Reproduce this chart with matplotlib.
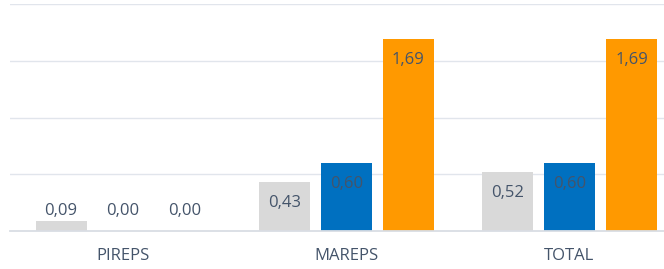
import matplotlib
matplotlib.use("Agg")
import matplotlib.pyplot as plt
import numpy as np

categories = ["PIREPS", "MAREPS", "TOTAL"]
serie_gris = [0.09, 0.43, 0.52]
serie_azul = [0.00, 0.60, 0.60]
serie_naranja = [0.00, 1.69, 1.69]

colores = ["#D9D9D9", "#0070C0", "#FF9900"]
texto = "#44546A"

plt.rcParams['font.family'] = ['Open Sans', 'DejaVu Sans']

fig = plt.figure(figsize=(6.64, 2.69), dpi=100)
ax = fig.add_axes([10 / 664, 38 / 269, 654 / 664, 227 / 269])

x = np.arange(len(categories))
slot = 0.278
ancho = 0.229
px = 2.0 / 227  # data units per pixel

for i, (vals, col) in enumerate(zip([serie_gris, serie_azul, serie_naranja], colores)):
    pos = x + (i - 1) * slot
    ax.bar(pos, vals, width=ancho, color=col, zorder=2)
    for p, v in zip(pos, vals):
        y = max(v - 21 * px, 20 * px)
        ax.text(p, y, f"{v:.2f}".replace(".", ","), ha="center", va="center",
                fontsize=12, color=texto, zorder=3)

ax.set_xlim(-0.507, 2.424)
ax.set_ylim(0, 2.0)
ax.set_yticks([0.5, 1.0, 1.5, 2.0])
ax.yaxis.grid(True, color="#E1E5EC", linewidth=1, zorder=0)
ax.tick_params(axis="y", length=0, labelleft=False)
ax.set_xticks(x)
ax.set_xticklabels(categories, fontsize=12, color=texto)
ax.tick_params(axis="x", length=0, pad=12)

for s in ["top", "right", "left"]:
    ax.spines[s].set_visible(False)
ax.spines["bottom"].set_color("#D9DDE4")
ax.spines["bottom"].set_linewidth(1.3)
ax.set_clip_on(False)

fig.savefig("out.png", dpi=100)
